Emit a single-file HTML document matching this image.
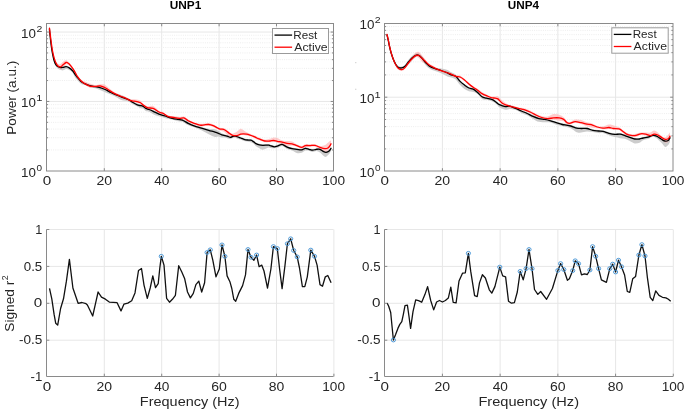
<!DOCTYPE html>
<html><head><meta charset="utf-8"><style>
html,body{margin:0;padding:0;background:#fff;}
svg{display:block;}
#w{width:685px;height:410px;overflow:hidden;will-change:transform;}
text{font-family:"Liberation Sans",sans-serif;}
</style></head><body>
<div id="w"><svg width="685" height="410" viewBox="0 0 685 410">
<rect width="685" height="410" fill="#fff"/>
<line x1="104.3" y1="23.5" x2="104.3" y2="171" stroke="#e7e7e7" stroke-width="1"/>
<line x1="161.7" y1="23.5" x2="161.7" y2="171" stroke="#e7e7e7" stroke-width="1"/>
<line x1="219.1" y1="23.5" x2="219.1" y2="171" stroke="#e7e7e7" stroke-width="1"/>
<line x1="276.5" y1="23.5" x2="276.5" y2="171" stroke="#e7e7e7" stroke-width="1"/>
<line x1="46.5" y1="149.96" x2="333.5" y2="149.96" stroke="#ededed" stroke-width="1" stroke-dasharray="1 1.2"/>
<line x1="46.5" y1="137.74" x2="333.5" y2="137.74" stroke="#ededed" stroke-width="1" stroke-dasharray="1 1.2"/>
<line x1="46.5" y1="129.07" x2="333.5" y2="129.07" stroke="#ededed" stroke-width="1" stroke-dasharray="1 1.2"/>
<line x1="46.5" y1="122.34" x2="333.5" y2="122.34" stroke="#ededed" stroke-width="1" stroke-dasharray="1 1.2"/>
<line x1="46.5" y1="116.85" x2="333.5" y2="116.85" stroke="#ededed" stroke-width="1" stroke-dasharray="1 1.2"/>
<line x1="46.5" y1="112.2" x2="333.5" y2="112.2" stroke="#ededed" stroke-width="1" stroke-dasharray="1 1.2"/>
<line x1="46.5" y1="108.18" x2="333.5" y2="108.18" stroke="#ededed" stroke-width="1" stroke-dasharray="1 1.2"/>
<line x1="46.5" y1="104.63" x2="333.5" y2="104.63" stroke="#ededed" stroke-width="1" stroke-dasharray="1 1.2"/>
<line x1="46.5" y1="80.56" x2="333.5" y2="80.56" stroke="#ededed" stroke-width="1" stroke-dasharray="1 1.2"/>
<line x1="46.5" y1="68.34" x2="333.5" y2="68.34" stroke="#ededed" stroke-width="1" stroke-dasharray="1 1.2"/>
<line x1="46.5" y1="59.67" x2="333.5" y2="59.67" stroke="#ededed" stroke-width="1" stroke-dasharray="1 1.2"/>
<line x1="46.5" y1="52.94" x2="333.5" y2="52.94" stroke="#ededed" stroke-width="1" stroke-dasharray="1 1.2"/>
<line x1="46.5" y1="47.45" x2="333.5" y2="47.45" stroke="#ededed" stroke-width="1" stroke-dasharray="1 1.2"/>
<line x1="46.5" y1="42.8" x2="333.5" y2="42.8" stroke="#ededed" stroke-width="1" stroke-dasharray="1 1.2"/>
<line x1="46.5" y1="38.78" x2="333.5" y2="38.78" stroke="#ededed" stroke-width="1" stroke-dasharray="1 1.2"/>
<line x1="46.5" y1="35.23" x2="333.5" y2="35.23" stroke="#ededed" stroke-width="1" stroke-dasharray="1 1.2"/>
<line x1="46.5" y1="101.45" x2="333.5" y2="101.45" stroke="#e7e7e7" stroke-width="1"/>
<line x1="46.5" y1="32.05" x2="333.5" y2="32.05" stroke="#e7e7e7" stroke-width="1"/>
<line x1="442.42" y1="23.5" x2="442.42" y2="171" stroke="#e7e7e7" stroke-width="1"/>
<line x1="500.14" y1="23.5" x2="500.14" y2="171" stroke="#e7e7e7" stroke-width="1"/>
<line x1="557.86" y1="23.5" x2="557.86" y2="171" stroke="#e7e7e7" stroke-width="1"/>
<line x1="615.58" y1="23.5" x2="615.58" y2="171" stroke="#e7e7e7" stroke-width="1"/>
<line x1="384.5" y1="148.92" x2="673" y2="148.92" stroke="#ededed" stroke-width="1" stroke-dasharray="1 1.2"/>
<line x1="384.5" y1="135.89" x2="673" y2="135.89" stroke="#ededed" stroke-width="1" stroke-dasharray="1 1.2"/>
<line x1="384.5" y1="126.65" x2="673" y2="126.65" stroke="#ededed" stroke-width="1" stroke-dasharray="1 1.2"/>
<line x1="384.5" y1="119.48" x2="673" y2="119.48" stroke="#ededed" stroke-width="1" stroke-dasharray="1 1.2"/>
<line x1="384.5" y1="113.62" x2="673" y2="113.62" stroke="#ededed" stroke-width="1" stroke-dasharray="1 1.2"/>
<line x1="384.5" y1="108.66" x2="673" y2="108.66" stroke="#ededed" stroke-width="1" stroke-dasharray="1 1.2"/>
<line x1="384.5" y1="104.37" x2="673" y2="104.37" stroke="#ededed" stroke-width="1" stroke-dasharray="1 1.2"/>
<line x1="384.5" y1="100.59" x2="673" y2="100.59" stroke="#ededed" stroke-width="1" stroke-dasharray="1 1.2"/>
<line x1="384.5" y1="74.92" x2="673" y2="74.92" stroke="#ededed" stroke-width="1" stroke-dasharray="1 1.2"/>
<line x1="384.5" y1="61.89" x2="673" y2="61.89" stroke="#ededed" stroke-width="1" stroke-dasharray="1 1.2"/>
<line x1="384.5" y1="52.65" x2="673" y2="52.65" stroke="#ededed" stroke-width="1" stroke-dasharray="1 1.2"/>
<line x1="384.5" y1="45.48" x2="673" y2="45.48" stroke="#ededed" stroke-width="1" stroke-dasharray="1 1.2"/>
<line x1="384.5" y1="39.62" x2="673" y2="39.62" stroke="#ededed" stroke-width="1" stroke-dasharray="1 1.2"/>
<line x1="384.5" y1="34.66" x2="673" y2="34.66" stroke="#ededed" stroke-width="1" stroke-dasharray="1 1.2"/>
<line x1="384.5" y1="30.37" x2="673" y2="30.37" stroke="#ededed" stroke-width="1" stroke-dasharray="1 1.2"/>
<line x1="384.5" y1="26.59" x2="673" y2="26.59" stroke="#ededed" stroke-width="1" stroke-dasharray="1 1.2"/>
<line x1="384.5" y1="97.2" x2="673" y2="97.2" stroke="#e7e7e7" stroke-width="1"/>
<path d="M49.4 27.9 C49.52 29.04 49.82 32.13 50.1 34.71 C50.38 37.3 50.75 40.73 51.1 43.43 C51.45 46.12 51.75 48.39 52.2 50.89 C52.65 53.4 53.22 56.38 53.8 58.46 C54.38 60.54 54.95 62.17 55.7 63.35 C56.45 64.54 57.48 65.06 58.3 65.57 C59.12 66.08 59.8 66.33 60.6 66.43 C61.4 66.54 62.18 66.34 63.1 66.19 C64.02 66.04 65.08 65.42 66.1 65.55 C67.12 65.68 68.08 66.26 69.2 66.99 C70.32 67.72 71.93 69.06 72.8 69.93 C73.67 70.8 73.65 71.15 74.4 72.19 C75.15 73.24 76.2 74.85 77.3 76.2 C78.4 77.55 79.78 79.22 81 80.28 C82.22 81.34 83.02 81.8 84.6 82.57 C86.18 83.33 88.77 84.37 90.5 84.86 C92.23 85.36 93.55 85.31 95 85.54 C96.45 85.76 97.52 85.75 99.2 86.21 C100.88 86.67 103.38 87.58 105.1 88.3 C106.82 89.03 108.03 89.83 109.5 90.56 C110.97 91.29 111.95 91.95 113.9 92.68 C115.85 93.42 118.77 93.99 121.2 94.96 C123.63 95.93 126.53 97.43 128.5 98.5 C130.47 99.58 131.53 100.56 133 101.4 C134.47 102.23 136.13 103 137.3 103.51 C138.47 104.01 139.03 104.14 140 104.44 C140.97 104.74 142.13 104.82 143.1 105.3 C144.07 105.78 144.82 106.77 145.8 107.31 C146.78 107.84 147.77 108.04 149 108.5 C150.23 108.97 151.53 109.32 153.2 110.07 C154.87 110.82 157.05 112.16 159 112.98 C160.95 113.8 162.7 114.29 164.9 114.99 C167.1 115.69 170.02 116.62 172.2 117.19 C174.38 117.77 176.3 118.11 178 118.42 C179.7 118.73 180.7 118.44 182.4 119.04 C184.1 119.64 186.25 121.05 188.2 122.01 C190.15 122.98 191.9 123.98 194.1 124.81 C196.3 125.64 198.97 126.31 201.4 126.99 C203.83 127.66 206.43 128.47 208.7 128.83 C210.97 129.2 213.38 128.84 215 129.17 C216.62 129.51 217.27 130.15 218.4 130.84 C219.53 131.53 220.67 132.7 221.8 133.31 C222.93 133.91 224.2 134.15 225.2 134.46 C226.2 134.76 226.93 134.79 227.8 135.12 C228.67 135.46 229.55 136.45 230.4 136.47 C231.25 136.5 232.05 135.51 232.9 135.26 C233.75 135.02 234.65 134.89 235.5 135 C236.35 135.1 237.15 135.61 238 135.9 C238.85 136.2 239.6 136.38 240.6 136.77 C241.6 137.16 242.87 137.85 244 138.23 C245.13 138.62 246.27 138.94 247.4 139.08 C248.53 139.21 249.8 138.82 250.8 139.06 C251.8 139.3 252.53 139.95 253.4 140.51 C254.27 141.07 255 141.89 256 142.42 C257 142.94 258.27 143.35 259.4 143.67 C260.53 143.99 261.28 144.29 262.8 144.35 C264.32 144.41 267.3 144.02 268.5 144.05 C269.7 144.08 269.03 144.24 270 144.52 C270.97 144.8 272.88 145.76 274.3 145.73 C275.72 145.7 277.18 144.71 278.5 144.31 C279.82 143.9 280.77 143.01 282.2 143.31 C283.63 143.6 285.47 145.39 287.1 146.1 C288.73 146.82 290.38 147.24 292 147.6 C293.62 147.97 295.18 148.14 296.8 148.32 C298.42 148.5 300.27 148.91 301.7 148.7 C303.13 148.49 304.18 147.13 305.4 147.06 C306.62 146.99 307.78 147.94 309 148.27 C310.22 148.61 311.48 149.08 312.7 149.09 C313.92 149.1 315.08 148.45 316.3 148.31 C317.52 148.18 318.77 147.92 320 148.27 C321.23 148.62 322.68 149.94 323.7 150.42 C324.72 150.91 325.2 151.26 326.1 151.19 C327 151.11 328.28 150.64 329.1 149.98 C329.92 149.32 330.68 147.68 331 147.22 L331 151.1 C330.68 151.6 329.92 153.15 329.1 154.11 C328.28 155.07 327 156.54 326.1 156.85 C325.2 157.17 324.72 156.71 323.7 155.99 C322.68 155.26 321.23 153.32 320 152.49 C318.77 151.67 317.52 151.11 316.3 151.02 C315.08 150.92 313.92 151.98 312.7 151.93 C311.48 151.87 310.22 150.93 309 150.71 C307.78 150.48 306.62 150.24 305.4 150.57 C304.18 150.91 303.13 152.31 301.7 152.71 C300.27 153.11 298.42 153.34 296.8 152.97 C295.18 152.6 293.62 151.15 292 150.5 C290.38 149.85 288.73 149.82 287.1 149.09 C285.47 148.35 283.63 146.36 282.2 146.1 C280.77 145.83 279.82 147.14 278.5 147.48 C277.18 147.82 275.72 148.07 274.3 148.14 C272.88 148.21 270.97 147.99 270 147.9 C269.03 147.8 269.7 147.26 268.5 147.57 C267.3 147.87 264.32 149.61 262.8 149.73 C261.28 149.85 260.53 148.87 259.4 148.3 C258.27 147.73 257 147.09 256 146.31 C255 145.52 254.27 144.23 253.4 143.57 C252.53 142.91 251.8 142.69 250.8 142.33 C249.8 141.96 248.53 141.61 247.4 141.39 C246.27 141.18 245.13 141.33 244 141.02 C242.87 140.72 241.6 139.89 240.6 139.57 C239.6 139.25 238.85 139.41 238 139.09 C237.15 138.78 236.35 137.86 235.5 137.68 C234.65 137.5 233.75 137.8 232.9 138.01 C232.05 138.21 231.25 138.82 230.4 138.9 C229.55 138.98 228.67 138.73 227.8 138.49 C226.93 138.25 226.2 137.65 225.2 137.47 C224.2 137.29 222.93 137.56 221.8 137.42 C220.67 137.27 219.53 136.66 218.4 136.59 C217.27 136.51 216.62 137.36 215 136.96 C213.38 136.57 210.97 135.32 208.7 134.2 C206.43 133.08 203.83 131.42 201.4 130.25 C198.97 129.09 196.3 128.07 194.1 127.23 C191.9 126.4 190.15 126.17 188.2 125.27 C186.25 124.36 184.1 122.46 182.4 121.8 C180.7 121.13 179.7 121.64 178 121.28 C176.3 120.91 174.38 120.16 172.2 119.61 C170.02 119.06 167.1 118.52 164.9 117.98 C162.7 117.43 160.95 116.97 159 116.34 C157.05 115.71 154.87 114.93 153.2 114.17 C151.53 113.42 150.23 112.35 149 111.82 C147.77 111.29 146.78 111.56 145.8 111.02 C144.82 110.47 144.07 109.09 143.1 108.57 C142.13 108.06 140.97 108.28 140 107.92 C139.03 107.55 138.47 107 137.3 106.4 C136.13 105.79 134.47 105.11 133 104.28 C131.53 103.45 130.47 102.15 128.5 101.44 C126.53 100.74 123.63 100.97 121.2 100.04 C118.77 99.11 115.85 96.86 113.9 95.87 C111.95 94.87 110.97 94.7 109.5 94.08 C108.03 93.47 106.82 92.91 105.1 92.18 C103.38 91.45 100.88 90.34 99.2 89.7 C97.52 89.05 96.45 88.67 95 88.31 C93.55 87.95 92.23 88.07 90.5 87.52 C88.77 86.97 86.18 85.62 84.6 85 C83.02 84.38 82.22 84.61 81 83.78 C79.78 82.96 78.4 81.31 77.3 80.05 C76.2 78.78 75.15 77.38 74.4 76.2 C73.65 75.02 73.67 74 72.8 72.97 C71.93 71.94 70.32 70.67 69.2 70.02 C68.08 69.37 67.12 69.01 66.1 69.07 C65.08 69.13 64.02 70.26 63.1 70.37 C62.18 70.48 61.4 69.99 60.6 69.75 C59.8 69.52 59.12 69.57 58.3 68.95 C57.48 68.33 56.45 67.3 55.7 66.05 C54.95 64.81 54.38 63.59 53.8 61.47 C53.22 59.35 52.65 55.88 52.2 53.35 C51.75 50.81 51.45 48.87 51.1 46.26 C50.75 43.64 50.38 40.2 50.1 37.66 C49.82 35.13 49.52 32.14 49.4 31.03 Z" fill="#c6c6c6" fill-opacity="0.9" stroke="none"/>
<path d="M49.5 26.87 C49.63 28.01 49.98 31.14 50.3 33.71 C50.62 36.28 51.03 39.63 51.4 42.29 C51.77 44.95 52.03 47.32 52.5 49.69 C52.97 52.06 53.62 54.55 54.2 56.51 C54.78 58.48 55.37 60.26 56 61.48 C56.63 62.71 57.23 63.47 58 63.87 C58.77 64.27 59.75 64.22 60.6 63.88 C61.45 63.54 62.18 62.42 63.1 61.82 C64.02 61.23 65.18 60.28 66.1 60.32 C67.02 60.36 67.78 61.34 68.6 62.07 C69.42 62.8 70.1 63.52 71 64.7 C71.9 65.89 72.95 67.44 74 69.18 C75.05 70.92 76.02 73.35 77.3 75.14 C78.58 76.92 80.23 78.76 81.7 79.88 C83.17 81.01 84.63 81.25 86.1 81.89 C87.57 82.54 88.92 83.2 90.5 83.74 C92.08 84.28 94.02 85.06 95.6 85.15 C97.18 85.24 98.53 84.37 100 84.27 C101.47 84.17 103.07 84.04 104.4 84.55 C105.73 85.06 106.67 86.27 108 87.31 C109.33 88.35 110.93 89.76 112.4 90.79 C113.87 91.82 115.33 92.74 116.8 93.48 C118.27 94.22 119.73 94.64 121.2 95.23 C122.67 95.82 124.13 96.39 125.6 97.03 C127.07 97.66 128.55 98.65 130 99.02 C131.45 99.39 132.97 99.13 134.3 99.23 C135.63 99.33 136.97 99.37 138 99.63 C139.03 99.9 139.68 100.19 140.5 100.81 C141.32 101.44 141.77 102.5 142.9 103.39 C144.03 104.29 145.58 105.75 147.3 106.17 C149.02 106.59 151.25 105.16 153.2 105.91 C155.15 106.66 157.3 109.61 159 110.65 C160.7 111.69 161.93 111.37 163.4 112.16 C164.87 112.95 166.1 114.72 167.8 115.38 C169.5 116.03 171.65 115.84 173.6 116.09 C175.55 116.34 177.78 116.8 179.5 116.88 C181.22 116.96 182.45 116.13 183.9 116.56 C185.35 116.99 186.5 118.5 188.2 119.46 C189.9 120.41 192.15 121.57 194.1 122.3 C196.05 123.02 198.2 123.6 199.9 123.8 C201.6 123.99 202.83 123.58 204.3 123.46 C205.77 123.34 207.23 122.93 208.7 123.07 C210.17 123.2 211.62 123.61 213.1 124.27 C214.58 124.92 216.43 126.4 217.6 126.98 C218.77 127.55 219.12 127.55 220.1 127.72 C221.08 127.9 222.5 127.78 223.5 128.04 C224.5 128.3 225.23 128.69 226.1 129.28 C226.97 129.87 227.7 130.83 228.7 131.56 C229.7 132.3 230.97 133.51 232.1 133.69 C233.23 133.86 234.52 133.1 235.5 132.6 C236.48 132.1 237.15 131.34 238 130.69 C238.85 130.03 239.73 128.81 240.6 128.68 C241.47 128.56 242.2 129.34 243.2 129.95 C244.2 130.56 245.47 131.69 246.6 132.33 C247.73 132.96 248.87 133.3 250 133.77 C251.13 134.24 252.27 134.68 253.4 135.12 C254.53 135.56 255.67 135.93 256.8 136.41 C257.93 136.89 258.87 137.48 260.2 138.02 C261.53 138.55 263.18 139.48 264.8 139.61 C266.42 139.75 268.42 139.21 269.9 138.85 C271.38 138.48 272.47 137.57 273.7 137.43 C274.93 137.29 275.88 137.51 277.3 138.01 C278.72 138.5 280.57 139.9 282.2 140.41 C283.83 140.93 285.47 140.92 287.1 141.11 C288.73 141.29 290.38 140.98 292 141.52 C293.62 142.05 295.18 143.6 296.8 144.33 C298.42 145.06 300.27 145.9 301.7 145.89 C303.13 145.89 303.98 144.59 305.4 144.3 C306.82 144.01 308.58 144.14 310.2 144.15 C311.82 144.15 313.47 144 315.1 144.33 C316.73 144.66 318.37 145.99 320 146.11 C321.63 146.24 323.58 145.67 324.9 145.09 C326.22 144.52 326.98 143.4 327.9 142.67 C328.82 141.94 329.88 141.07 330.4 140.71 C330.92 140.34 330.9 140.51 331 140.47 L331 145.72 C330.9 145.91 330.92 146.02 330.4 146.85 C329.88 147.69 328.82 149.87 327.9 150.72 C326.98 151.57 326.22 152.15 324.9 151.95 C323.58 151.75 321.63 150.38 320 149.52 C318.37 148.66 316.73 147.27 315.1 146.79 C313.47 146.32 311.82 146.62 310.2 146.67 C308.58 146.72 306.82 146.72 305.4 147.08 C303.98 147.43 303.13 148.88 301.7 148.8 C300.27 148.72 298.42 147.16 296.8 146.61 C295.18 146.06 293.62 145.57 292 145.48 C290.38 145.39 288.73 146.25 287.1 146.07 C285.47 145.88 283.83 144.92 282.2 144.38 C280.57 143.84 278.72 143.25 277.3 142.82 C275.88 142.4 274.93 141.95 273.7 141.85 C272.47 141.76 271.38 142.21 269.9 142.28 C268.42 142.35 266.42 142.57 264.8 142.28 C263.18 141.99 261.53 141 260.2 140.53 C258.87 140.07 257.93 139.99 256.8 139.48 C255.67 138.98 254.53 138.05 253.4 137.51 C252.27 136.97 251.13 136.52 250 136.23 C248.87 135.95 247.73 135.98 246.6 135.79 C245.47 135.6 244.2 135.18 243.2 135.1 C242.2 135.02 241.47 135.01 240.6 135.31 C239.73 135.61 238.85 136.58 238 136.89 C237.15 137.2 236.48 137.09 235.5 137.16 C234.52 137.23 233.23 137.46 232.1 137.31 C230.97 137.15 229.7 136.83 228.7 136.25 C227.7 135.67 226.97 134.61 226.1 133.83 C225.23 133.04 224.5 132.09 223.5 131.53 C222.5 130.97 221.08 130.82 220.1 130.45 C219.12 130.09 218.77 129.9 217.6 129.34 C216.43 128.78 214.58 127.73 213.1 127.09 C211.62 126.46 210.17 125.72 208.7 125.56 C207.23 125.39 205.77 125.91 204.3 126.11 C202.83 126.31 201.6 127.05 199.9 126.76 C198.2 126.47 196.05 125.14 194.1 124.36 C192.15 123.58 189.9 122.91 188.2 122.08 C186.5 121.26 185.35 119.83 183.9 119.39 C182.45 118.96 181.22 119.57 179.5 119.47 C177.78 119.37 175.55 119.08 173.6 118.79 C171.65 118.5 169.5 118.38 167.8 117.72 C166.1 117.06 164.87 115.57 163.4 114.84 C161.93 114.11 160.7 114.21 159 113.33 C157.3 112.44 155.15 110.22 153.2 109.53 C151.25 108.83 149.02 109.74 147.3 109.16 C145.58 108.59 144.03 106.97 142.9 106.08 C141.77 105.19 141.32 104.28 140.5 103.81 C139.68 103.35 139.03 103.5 138 103.29 C136.97 103.09 135.63 102.91 134.3 102.6 C132.97 102.29 131.45 101.94 130 101.44 C128.55 100.95 127.07 100.22 125.6 99.63 C124.13 99.03 122.67 98.5 121.2 97.87 C119.73 97.23 118.27 96.5 116.8 95.81 C115.33 95.11 113.87 94.55 112.4 93.71 C110.93 92.87 109.33 91.61 108 90.77 C106.67 89.94 105.73 89.35 104.4 88.72 C103.07 88.09 101.47 87.23 100 87.02 C98.53 86.81 97.18 87.33 95.6 87.47 C94.02 87.61 92.08 88.18 90.5 87.87 C88.92 87.56 87.57 86.48 86.1 85.59 C84.63 84.69 83.17 83.8 81.7 82.51 C80.23 81.23 78.58 79.72 77.3 77.88 C76.02 76.05 75.05 73.27 74 71.52 C72.95 69.77 71.9 68.44 71 67.36 C70.1 66.28 69.42 65.56 68.6 65.05 C67.78 64.54 67.02 63.9 66.1 64.3 C65.18 64.71 64.02 66.63 63.1 67.47 C62.18 68.32 61.45 69.31 60.6 69.38 C59.75 69.45 58.77 68.67 58 67.87 C57.23 67.07 56.63 66.04 56 64.6 C55.37 63.16 54.78 61.3 54.2 59.22 C53.62 57.14 52.97 54.49 52.5 52.13 C52.03 49.77 51.77 47.73 51.4 45.05 C51.03 42.36 50.62 38.63 50.3 36.04 C49.98 33.45 49.63 30.59 49.5 29.5 Z" fill="#ffb0b0" fill-opacity="0.65" stroke="none"/>
<path d="M49.4 29 C49.52 30.17 49.82 33.42 50.1 36 C50.38 38.58 50.75 41.83 51.1 44.5 C51.45 47.17 51.75 49.5 52.2 52 C52.65 54.5 53.22 57.45 53.8 59.5 C54.38 61.55 54.95 63.08 55.7 64.3 C56.45 65.52 57.48 66.25 58.3 66.8 C59.12 67.35 59.8 67.52 60.6 67.6 C61.4 67.68 62.18 67.45 63.1 67.3 C64.02 67.15 65.08 66.6 66.1 66.7 C67.12 66.8 68.08 67.18 69.2 67.9 C70.32 68.62 71.93 70.08 72.8 71 C73.67 71.92 73.65 72.35 74.4 73.4 C75.15 74.45 76.2 75.95 77.3 77.3 C78.4 78.65 79.78 80.45 81 81.5 C82.22 82.55 83.02 82.88 84.6 83.6 C86.18 84.32 88.77 85.28 90.5 85.8 C92.23 86.32 93.55 86.45 95 86.7 C96.45 86.95 97.52 86.83 99.2 87.3 C100.88 87.77 103.38 88.75 105.1 89.5 C106.82 90.25 108.03 91.07 109.5 91.8 C110.97 92.53 111.95 93.07 113.9 93.9 C115.85 94.73 118.77 95.83 121.2 96.8 C123.63 97.77 126.53 98.75 128.5 99.7 C130.47 100.65 131.53 101.65 133 102.5 C134.47 103.35 136.13 104.3 137.3 104.8 C138.47 105.3 139.03 105.25 140 105.5 C140.97 105.75 142.13 105.82 143.1 106.3 C144.07 106.78 144.82 107.87 145.8 108.4 C146.78 108.93 147.77 109.02 149 109.5 C150.23 109.98 151.53 110.52 153.2 111.3 C154.87 112.08 157.05 113.42 159 114.2 C160.95 114.98 162.7 115.32 164.9 116 C167.1 116.68 170.02 117.73 172.2 118.3 C174.38 118.87 176.3 119.1 178 119.4 C179.7 119.7 180.7 119.45 182.4 120.1 C184.1 120.75 186.25 122.33 188.2 123.3 C190.15 124.27 191.9 125.1 194.1 125.9 C196.3 126.7 198.97 127.37 201.4 128.1 C203.83 128.83 206.43 129.63 208.7 130.3 C210.97 130.97 213.38 131.6 215 132.1 C216.62 132.6 217.27 132.85 218.4 133.3 C219.53 133.75 220.67 134.42 221.8 134.8 C222.93 135.18 224.2 135.35 225.2 135.6 C226.2 135.85 226.93 136 227.8 136.3 C228.67 136.6 229.55 137.4 230.4 137.4 C231.25 137.4 232.05 136.5 232.9 136.3 C233.75 136.1 234.65 136.08 235.5 136.2 C236.35 136.32 237.15 136.7 238 137 C238.85 137.3 239.6 137.62 240.6 138 C241.6 138.38 242.87 138.97 244 139.3 C245.13 139.63 246.27 139.85 247.4 140 C248.53 140.15 249.8 139.93 250.8 140.2 C251.8 140.47 252.53 141.03 253.4 141.6 C254.27 142.17 255 143.05 256 143.6 C257 144.15 258.27 144.62 259.4 144.9 C260.53 145.18 261.28 145.27 262.8 145.3 C264.32 145.33 267.3 145.05 268.5 145.1 C269.7 145.15 269.03 145.32 270 145.6 C270.97 145.88 272.88 146.8 274.3 146.8 C275.72 146.8 277.18 146 278.5 145.6 C279.82 145.2 280.77 144.15 282.2 144.4 C283.63 144.65 285.47 146.38 287.1 147.1 C288.73 147.82 290.38 148.33 292 148.7 C293.62 149.07 295.18 149.1 296.8 149.3 C298.42 149.5 300.27 150.07 301.7 149.9 C303.13 149.73 304.18 148.4 305.4 148.3 C306.62 148.2 307.78 148.98 309 149.3 C310.22 149.62 311.48 150.2 312.7 150.2 C313.92 150.2 315.08 149.45 316.3 149.3 C317.52 149.15 318.77 148.9 320 149.3 C321.23 149.7 322.68 151.2 323.7 151.7 C324.72 152.2 325.2 152.4 326.1 152.3 C327 152.2 328.28 151.77 329.1 151.1 C329.92 150.43 330.68 148.77 331 148.3" stroke="#000" stroke-width="1.3" fill="none" stroke-linejoin="round" stroke-linecap="round"/>
<path d="M49.5 28.2 C49.63 29.33 49.98 32.45 50.3 35 C50.62 37.55 51.03 40.87 51.4 43.5 C51.77 46.13 52.03 48.37 52.5 50.8 C52.97 53.23 53.62 56.07 54.2 58.1 C54.78 60.13 55.37 61.68 56 63 C56.63 64.32 57.23 65.37 58 66 C58.77 66.63 59.75 67 60.6 66.8 C61.45 66.6 62.18 65.52 63.1 64.8 C64.02 64.08 65.18 62.72 66.1 62.5 C67.02 62.28 67.78 62.88 68.6 63.5 C69.42 64.12 70.1 65.07 71 66.2 C71.9 67.33 72.95 68.62 74 70.3 C75.05 71.98 76.02 74.45 77.3 76.3 C78.58 78.15 80.23 80.05 81.7 81.4 C83.17 82.75 84.63 83.58 86.1 84.4 C87.57 85.22 88.92 85.98 90.5 86.3 C92.08 86.62 94.02 86.38 95.6 86.3 C97.18 86.22 98.53 85.63 100 85.8 C101.47 85.97 103.07 86.68 104.4 87.3 C105.73 87.92 106.67 88.65 108 89.5 C109.33 90.35 110.93 91.55 112.4 92.4 C113.87 93.25 115.33 93.92 116.8 94.6 C118.27 95.28 119.73 95.9 121.2 96.5 C122.67 97.1 124.13 97.55 125.6 98.2 C127.07 98.85 128.55 99.9 130 100.4 C131.45 100.9 132.97 100.97 134.3 101.2 C135.63 101.43 136.97 101.53 138 101.8 C139.03 102.07 139.68 102.32 140.5 102.8 C141.32 103.28 141.77 103.88 142.9 104.7 C144.03 105.52 145.58 107.08 147.3 107.7 C149.02 108.32 151.25 107.68 153.2 108.4 C155.15 109.12 157.3 111.15 159 112 C160.7 112.85 161.93 112.77 163.4 113.5 C164.87 114.23 166.1 115.73 167.8 116.4 C169.5 117.07 171.65 117.18 173.6 117.5 C175.55 117.82 177.78 118.23 179.5 118.3 C181.22 118.37 182.45 117.48 183.9 117.9 C185.35 118.32 186.5 119.9 188.2 120.8 C189.9 121.7 192.15 122.57 194.1 123.3 C196.05 124.03 198.2 124.95 199.9 125.2 C201.6 125.45 202.83 124.92 204.3 124.8 C205.77 124.68 207.23 124.37 208.7 124.5 C210.17 124.63 211.62 125.02 213.1 125.6 C214.58 126.18 216.43 127.42 217.6 128 C218.77 128.58 219.12 128.88 220.1 129.1 C221.08 129.32 222.5 129.02 223.5 129.3 C224.5 129.58 225.23 130.2 226.1 130.8 C226.97 131.4 227.7 132.18 228.7 132.9 C229.7 133.62 230.97 134.63 232.1 135.1 C233.23 135.57 234.52 135.67 235.5 135.7 C236.48 135.73 237.15 135.55 238 135.3 C238.85 135.05 239.73 134.43 240.6 134.2 C241.47 133.97 242.2 133.9 243.2 133.9 C244.2 133.9 245.47 134 246.6 134.2 C247.73 134.4 248.87 134.75 250 135.1 C251.13 135.45 252.27 135.82 253.4 136.3 C254.53 136.78 255.67 137.5 256.8 138 C257.93 138.5 258.87 138.8 260.2 139.3 C261.53 139.8 263.18 140.72 264.8 141 C266.42 141.28 268.42 141.08 269.9 141 C271.38 140.92 272.47 140.45 273.7 140.5 C274.93 140.55 275.88 141.02 277.3 141.3 C278.72 141.58 280.57 141.85 282.2 142.2 C283.83 142.55 285.47 143.13 287.1 143.4 C288.73 143.67 290.38 143.43 292 143.8 C293.62 144.17 295.18 145 296.8 145.6 C298.42 146.2 300.27 147.4 301.7 147.4 C303.13 147.4 303.98 145.9 305.4 145.6 C306.82 145.3 308.58 145.63 310.2 145.6 C311.82 145.57 313.47 145.1 315.1 145.4 C316.73 145.7 318.37 146.85 320 147.4 C321.63 147.95 323.58 148.6 324.9 148.7 C326.22 148.8 326.98 148.62 327.9 148 C328.82 147.38 329.88 145.7 330.4 145 C330.92 144.3 330.9 144 331 143.8" stroke="#f00" stroke-width="1.3" fill="none" stroke-linejoin="round" stroke-linecap="round"/>
<path d="M387 33.9 C387.22 34.79 387.88 37.29 388.3 39.21 C388.72 41.14 389 43.23 389.5 45.43 C390 47.62 390.58 50.05 391.3 52.39 C392.02 54.73 392.98 57.52 393.8 59.46 C394.62 61.4 395.4 62.92 396.2 64.05 C397 65.18 397.68 65.82 398.6 66.24 C399.52 66.66 400.68 66.8 401.7 66.58 C402.72 66.37 403.58 66.05 404.7 64.93 C405.82 63.82 407.18 61.38 408.4 59.9 C409.62 58.41 410.78 57.13 412 56.02 C413.22 54.91 414.57 53.73 415.7 53.22 C416.83 52.72 417.78 52.56 418.8 53.01 C419.82 53.47 420.68 54.66 421.8 55.96 C422.92 57.27 424.23 59.34 425.5 60.84 C426.77 62.35 427.78 63.84 429.4 64.98 C431.02 66.12 433.25 67.1 435.2 67.68 C437.15 68.25 439.15 68.09 441.1 68.44 C443.05 68.79 445.2 69.11 446.9 69.76 C448.6 70.41 449.83 71.54 451.3 72.35 C452.77 73.16 454.23 73.3 455.7 74.64 C457.17 75.99 458.63 78.84 460.1 80.41 C461.57 81.97 463.03 82.95 464.5 84.03 C465.97 85.11 467.45 86.23 468.9 86.91 C470.35 87.59 471.75 87.41 473.2 88.11 C474.65 88.8 476.13 89.83 477.6 91.11 C479.07 92.38 480.53 94.72 482 95.74 C483.47 96.76 484.68 96.72 486.4 97.2 C488.12 97.68 490.6 97.87 492.3 98.61 C494 99.34 495.42 100.79 496.6 101.6 C497.78 102.42 497.97 102.84 499.4 103.47 C500.83 104.1 503.5 105.09 505.2 105.38 C506.9 105.67 507.88 104.87 509.6 105.19 C511.32 105.51 513.55 106.49 515.5 107.29 C517.45 108.1 519.35 109.16 521.3 110.02 C523.25 110.88 525.25 111.59 527.2 112.44 C529.15 113.29 531.05 114.27 533 115.11 C534.95 115.96 536.95 116.98 538.9 117.51 C540.85 118.04 542.75 117.91 544.7 118.29 C546.65 118.66 548.65 119.16 550.6 119.74 C552.55 120.32 554.45 121.18 556.4 121.77 C558.35 122.37 560.87 122.97 562.3 123.3 C563.73 123.62 563.58 123.45 565 123.72 C566.42 123.99 568.85 124.35 570.8 124.89 C572.75 125.42 574.98 126.48 576.7 126.93 C578.42 127.37 579.4 127.48 581.1 127.57 C582.8 127.66 584.95 127.19 586.9 127.46 C588.85 127.73 590.85 128.79 592.8 129.2 C594.75 129.6 596.9 129.74 598.6 129.9 C600.3 130.06 601.28 129.78 603 130.17 C604.72 130.56 606.95 131.68 608.9 132.23 C610.85 132.79 612.85 133.36 614.7 133.48 C616.55 133.6 618.3 132.78 620 132.96 C621.7 133.13 623.27 133.97 624.9 134.51 C626.53 135.06 628.18 135.67 629.8 136.22 C631.42 136.76 632.98 137.46 634.6 137.77 C636.22 138.07 638.07 138.19 639.5 138.05 C640.93 137.91 641.78 137.29 643.2 136.95 C644.62 136.61 646.38 136.45 648 136.02 C649.62 135.58 651.47 134.51 652.9 134.33 C654.33 134.15 655.17 134.26 656.6 134.91 C658.03 135.55 660.08 137.34 661.5 138.21 C662.92 139.07 663.98 139.9 665.1 140.1 C666.22 140.3 667.38 139.95 668.2 139.4 C669.02 138.86 669.7 137.25 670 136.82 L670 141.69 C669.7 142.26 669.02 144.25 668.2 145.12 C667.38 146 666.22 147.33 665.1 146.94 C663.98 146.55 662.92 144.23 661.5 142.77 C660.08 141.32 658.03 139.2 656.6 138.19 C655.17 137.18 654.33 136.57 652.9 136.71 C651.47 136.84 649.62 138.43 648 139 C646.38 139.58 644.62 139.54 643.2 140.16 C641.78 140.77 640.93 142.15 639.5 142.69 C638.07 143.22 636.22 143.65 634.6 143.38 C632.98 143.11 631.42 141.81 629.8 141.05 C628.18 140.28 626.53 139.28 624.9 138.8 C623.27 138.32 621.7 138.44 620 138.16 C618.3 137.87 616.55 137.55 614.7 137.08 C612.85 136.6 610.85 135.99 608.9 135.31 C606.95 134.63 604.72 133.36 603 132.99 C601.28 132.62 600.3 133.26 598.6 133.11 C596.9 132.95 594.75 132.36 592.8 132.07 C590.85 131.78 588.85 131.33 586.9 131.39 C584.95 131.45 582.8 132.27 581.1 132.43 C579.4 132.58 578.42 133 576.7 132.3 C574.98 131.6 572.75 129.17 570.8 128.24 C568.85 127.31 566.42 127.09 565 126.7 C563.58 126.31 563.73 126.23 562.3 125.9 C560.87 125.58 558.35 125.31 556.4 124.75 C554.45 124.19 552.55 122.95 550.6 122.54 C548.65 122.13 546.65 122.39 544.7 122.27 C542.75 122.16 540.85 122.42 538.9 121.86 C536.95 121.29 534.95 119.98 533 118.88 C531.05 117.77 529.15 116.22 527.2 115.22 C525.25 114.22 523.25 113.79 521.3 112.88 C519.35 111.97 517.45 110.44 515.5 109.77 C513.55 109.11 511.32 108.9 509.6 108.9 C507.88 108.91 506.9 110.06 505.2 109.79 C503.5 109.53 500.83 108.24 499.4 107.3 C497.97 106.36 497.78 105.11 496.6 104.14 C495.42 103.17 494 102.21 492.3 101.49 C490.6 100.78 488.12 100.29 486.4 99.85 C484.68 99.42 483.47 99.83 482 98.88 C480.53 97.92 479.07 95.24 477.6 94.1 C476.13 92.96 474.65 92.53 473.2 92.06 C471.75 91.58 470.35 91.76 468.9 91.24 C467.45 90.73 465.97 90.02 464.5 88.98 C463.03 87.94 461.57 86.62 460.1 85.03 C458.63 83.44 457.17 80.71 455.7 79.44 C454.23 78.18 452.77 77.97 451.3 77.43 C449.83 76.89 448.6 76.91 446.9 76.22 C445.2 75.53 443.05 74.13 441.1 73.28 C439.15 72.42 437.15 71.88 435.2 71.09 C433.25 70.3 431.02 69.53 429.4 68.51 C427.78 67.49 426.77 66.44 425.5 64.98 C424.23 63.52 422.92 61.05 421.8 59.74 C420.68 58.43 419.82 57.61 418.8 57.13 C417.78 56.66 416.83 56.29 415.7 56.91 C414.57 57.52 413.22 59.52 412 60.8 C410.78 62.09 409.62 63.3 408.4 64.61 C407.18 65.93 405.82 67.92 404.7 68.69 C403.58 69.47 402.72 69.17 401.7 69.28 C400.68 69.39 399.52 69.78 398.6 69.35 C397.68 68.93 397 67.86 396.2 66.71 C395.4 65.56 394.62 64.44 393.8 62.46 C392.98 60.48 392.02 57.21 391.3 54.85 C390.58 52.48 390 50.37 389.5 48.26 C389 46.14 388.72 44.03 388.3 42.16 C387.88 40.29 387.22 37.89 387 37.03 Z" fill="#c6c6c6" fill-opacity="0.9" stroke="none"/>
<path d="M387 33.07 C387.22 33.99 387.88 36.65 388.3 38.61 C388.72 40.56 389 42.53 389.5 44.79 C390 47.06 390.58 49.82 391.3 52.2 C392.02 54.57 392.98 57.06 393.8 59.06 C394.62 61.06 395.4 62.85 396.2 64.19 C397 65.53 397.68 66.38 398.6 67.1 C399.52 67.83 400.68 68.6 401.7 68.55 C402.72 68.49 403.58 67.95 404.7 66.78 C405.82 65.6 407.18 63.1 408.4 61.49 C409.62 59.89 410.78 58.63 412 57.15 C413.22 55.67 414.57 53.47 415.7 52.6 C416.83 51.72 417.78 51.47 418.8 51.89 C419.82 52.31 420.77 53.92 421.8 55.11 C422.83 56.3 423.98 57.79 425 59.02 C426.02 60.25 426.68 61.45 427.9 62.49 C429.12 63.52 430.58 64.24 432.3 65.25 C434.02 66.27 436.25 67.74 438.2 68.6 C440.15 69.45 442.05 69.75 444 70.39 C445.95 71.02 447.95 71.65 449.9 72.42 C451.85 73.18 454 74.46 455.7 74.97 C457.4 75.47 458.63 74.78 460.1 75.44 C461.57 76.09 463.03 77.68 464.5 78.88 C465.97 80.08 467.45 81.43 468.9 82.63 C470.35 83.84 471.75 85.09 473.2 86.13 C474.65 87.16 476.13 87.85 477.6 88.84 C479.07 89.83 480.53 91.12 482 92.06 C483.47 92.99 484.93 93.75 486.4 94.43 C487.87 95.11 489.33 95.79 490.8 96.14 C492.27 96.49 494.02 96.5 495.2 96.52 C496.38 96.54 496.72 95.57 497.9 96.25 C499.08 96.93 500.83 99.35 502.3 100.59 C503.77 101.84 505 102.88 506.7 103.71 C508.4 104.53 510.55 104.95 512.5 105.56 C514.45 106.17 516.45 106.94 518.4 107.38 C520.35 107.82 522.25 107.66 524.2 108.19 C526.15 108.73 528.15 109.67 530.1 110.58 C532.05 111.49 533.95 112.75 535.9 113.65 C537.85 114.56 539.85 115.51 541.8 115.99 C543.75 116.47 545.65 116.85 547.6 116.53 C549.55 116.22 551.55 114.39 553.5 114.08 C555.45 113.78 557.6 114.17 559.3 114.69 C561 115.21 562.48 116.2 563.7 117.2 C564.92 118.19 565.62 119.83 566.6 120.66 C567.58 121.49 568.17 122.34 569.6 122.17 C571.03 121.99 573.28 119.98 575.2 119.62 C577.12 119.26 579.15 119.55 581.1 120.01 C583.05 120.46 585.2 121.81 586.9 122.36 C588.6 122.9 589.58 122.69 591.3 123.28 C593.02 123.87 595.25 125.38 597.2 125.9 C599.15 126.43 601.05 126.67 603 126.44 C604.95 126.21 607.2 124.74 608.9 124.53 C610.6 124.32 611.5 124.72 613.2 125.18 C614.9 125.64 617.57 126.52 619.1 127.28 C620.63 128.05 621.23 128.9 622.4 129.77 C623.57 130.65 624.67 131.8 626.1 132.54 C627.53 133.28 629.37 134.02 631 134.23 C632.63 134.44 634.28 134.09 635.9 133.81 C637.52 133.52 639.08 132.73 640.7 132.52 C642.32 132.31 643.97 132.55 645.6 132.55 C647.23 132.54 649.08 132.8 650.5 132.47 C651.92 132.14 652.88 130.56 654.1 130.55 C655.32 130.55 656.57 131.53 657.8 132.44 C659.03 133.34 660.28 135.16 661.5 135.98 C662.72 136.8 663.98 137.57 665.1 137.37 C666.22 137.17 667.38 135.63 668.2 134.79 C669.02 133.95 669.7 132.74 670 132.33 L670 137.94 C669.7 138.56 669.02 140.87 668.2 141.65 C667.38 142.43 666.22 143.04 665.1 142.61 C663.98 142.18 662.72 140.08 661.5 139.05 C660.28 138.02 659.03 137.01 657.8 136.41 C656.57 135.81 655.32 135.37 654.1 135.45 C652.88 135.52 651.92 136.89 650.5 136.88 C649.08 136.87 647.23 135.68 645.6 135.38 C643.97 135.07 642.32 134.78 640.7 135.03 C639.08 135.28 637.52 136.62 635.9 136.88 C634.28 137.14 632.63 136.93 631 136.61 C629.37 136.28 627.53 135.6 626.1 134.93 C624.67 134.26 623.57 133.4 622.4 132.59 C621.23 131.79 620.63 130.6 619.1 130.1 C617.57 129.61 614.9 129.78 613.2 129.61 C611.5 129.43 610.6 129.09 608.9 129.05 C607.2 129.01 604.95 129.46 603 129.35 C601.05 129.24 599.15 128.7 597.2 128.37 C595.25 128.05 593.02 127.72 591.3 127.39 C589.58 127.06 588.6 126.97 586.9 126.42 C585.2 125.87 583.05 124.71 581.1 124.1 C579.15 123.5 577.12 122.7 575.2 122.79 C573.28 122.88 571.03 124.44 569.6 124.66 C568.17 124.87 567.58 124.61 566.6 124.06 C565.62 123.5 564.92 121.89 563.7 121.33 C562.48 120.76 561 120.94 559.3 120.68 C557.6 120.41 555.45 119.91 553.5 119.74 C551.55 119.57 549.55 119.82 547.6 119.66 C545.65 119.5 543.75 119.31 541.8 118.78 C539.85 118.26 537.85 117.43 535.9 116.49 C533.95 115.56 532.05 114.11 530.1 113.17 C528.15 112.24 526.15 111.46 524.2 110.89 C522.25 110.31 520.35 110.16 518.4 109.72 C516.45 109.28 514.45 108.77 512.5 108.24 C510.55 107.71 508.4 107.16 506.7 106.53 C505 105.89 503.77 105.45 502.3 104.43 C500.83 103.4 499.08 101.17 497.9 100.36 C496.72 99.56 496.38 99.89 495.2 99.58 C494.02 99.27 492.27 98.93 490.8 98.51 C489.33 98.1 487.87 97.68 486.4 97.09 C484.93 96.51 483.47 95.98 482 95 C480.53 94.03 479.07 92.29 477.6 91.24 C476.13 90.2 474.65 89.72 473.2 88.73 C471.75 87.73 470.35 86.52 468.9 85.27 C467.45 84.02 465.97 82.37 464.5 81.21 C463.03 80.05 461.57 78.92 460.1 78.31 C458.63 77.71 457.4 78.11 455.7 77.57 C454 77.04 451.85 75.91 449.9 75.12 C447.95 74.33 445.95 73.53 444 72.82 C442.05 72.11 440.15 71.6 438.2 70.87 C436.25 70.13 434.02 69.28 432.3 68.4 C430.58 67.52 429.12 66.4 427.9 65.58 C426.68 64.77 426.02 64.16 425 63.51 C423.98 62.86 422.83 62.59 421.8 61.68 C420.77 60.77 419.82 58.78 418.8 58.05 C417.78 57.31 416.83 56.89 415.7 57.26 C414.57 57.64 413.22 59.12 412 60.29 C410.78 61.46 409.62 62.8 408.4 64.28 C407.18 65.76 405.82 68.07 404.7 69.18 C403.58 70.3 402.72 70.85 401.7 70.95 C400.68 71.06 399.52 70.49 398.6 69.82 C397.68 69.15 397 68.3 396.2 66.94 C395.4 65.59 394.62 63.74 393.8 61.69 C392.98 59.63 392.02 56.98 391.3 54.62 C390.58 52.27 390 49.83 389.5 47.55 C389 45.26 388.72 42.91 388.3 40.94 C387.88 38.96 387.22 36.57 387 35.7 Z" fill="#ffb0b0" fill-opacity="0.65" stroke="none"/>
<path d="M387 35 C387.22 35.92 387.88 38.58 388.3 40.5 C388.72 42.42 389 44.33 389.5 46.5 C390 48.67 390.58 51.17 391.3 53.5 C392.02 55.83 392.98 58.58 393.8 60.5 C394.62 62.42 395.4 63.83 396.2 65 C397 66.17 397.68 67.02 398.6 67.5 C399.52 67.98 400.68 68.07 401.7 67.9 C402.72 67.73 403.58 67.48 404.7 66.5 C405.82 65.52 407.18 63.42 408.4 62 C409.62 60.58 410.78 59.12 412 58 C413.22 56.88 414.57 55.75 415.7 55.3 C416.83 54.85 417.78 54.85 418.8 55.3 C419.82 55.75 420.68 56.8 421.8 58 C422.92 59.2 424.23 61.15 425.5 62.5 C426.77 63.85 427.78 65.07 429.4 66.1 C431.02 67.13 433.25 67.97 435.2 68.7 C437.15 69.43 439.15 69.83 441.1 70.5 C443.05 71.17 445.2 71.97 446.9 72.7 C448.6 73.43 449.83 74.3 451.3 74.9 C452.77 75.5 454.23 75.22 455.7 76.3 C457.17 77.38 458.63 79.93 460.1 81.4 C461.57 82.87 463.03 84 464.5 85.1 C465.97 86.2 467.45 87.32 468.9 88 C470.35 88.68 471.75 88.47 473.2 89.2 C474.65 89.93 476.13 91.13 477.6 92.4 C479.07 93.67 480.53 95.83 482 96.8 C483.47 97.77 484.68 97.72 486.4 98.2 C488.12 98.68 490.6 98.97 492.3 99.7 C494 100.43 495.42 101.77 496.6 102.6 C497.78 103.43 497.97 104.03 499.4 104.7 C500.83 105.37 503.5 106.35 505.2 106.6 C506.9 106.85 507.88 105.9 509.6 106.2 C511.32 106.5 513.55 107.6 515.5 108.4 C517.45 109.2 519.35 110.15 521.3 111 C523.25 111.85 525.25 112.6 527.2 113.5 C529.15 114.4 531.05 115.55 533 116.4 C534.95 117.25 536.95 118.1 538.9 118.6 C540.85 119.1 542.75 119.03 544.7 119.4 C546.65 119.77 548.65 120.25 550.6 120.8 C552.55 121.35 554.45 122.08 556.4 122.7 C558.35 123.32 560.87 124.13 562.3 124.5 C563.73 124.87 563.58 124.65 565 124.9 C566.42 125.15 568.85 125.47 570.8 126 C572.75 126.53 574.98 127.68 576.7 128.1 C578.42 128.52 579.4 128.43 581.1 128.5 C582.8 128.57 584.95 128.18 586.9 128.5 C588.85 128.82 590.85 129.98 592.8 130.4 C594.75 130.82 596.9 130.83 598.6 131 C600.3 131.17 601.28 131.02 603 131.4 C604.72 131.78 606.95 132.8 608.9 133.3 C610.85 133.8 612.85 134.27 614.7 134.4 C616.55 134.53 618.3 133.9 620 134.1 C621.7 134.3 623.27 135.05 624.9 135.6 C626.53 136.15 628.18 136.83 629.8 137.4 C631.42 137.97 632.98 138.73 634.6 139 C636.22 139.27 638.07 139.17 639.5 139 C640.93 138.83 641.78 138.32 643.2 138 C644.62 137.68 646.38 137.53 648 137.1 C649.62 136.67 651.47 135.55 652.9 135.4 C654.33 135.25 655.17 135.55 656.6 136.2 C658.03 136.85 660.08 138.48 661.5 139.3 C662.92 140.12 663.98 140.9 665.1 141.1 C666.22 141.3 667.38 141.05 668.2 140.5 C669.02 139.95 669.7 138.25 670 137.8" stroke="#000" stroke-width="1.3" fill="none" stroke-linejoin="round" stroke-linecap="round"/>
<path d="M387 34.4 C387.22 35.32 387.88 37.97 388.3 39.9 C388.72 41.83 389 43.77 389.5 46 C390 48.23 390.58 50.87 391.3 53.3 C392.02 55.73 392.98 58.57 393.8 60.6 C394.62 62.63 395.4 64.18 396.2 65.5 C397 66.82 397.68 67.8 398.6 68.5 C399.52 69.2 400.68 69.8 401.7 69.7 C402.72 69.6 403.58 69.02 404.7 67.9 C405.82 66.78 407.18 64.52 408.4 63 C409.62 61.48 410.78 60.02 412 58.8 C413.22 57.58 414.57 56.25 415.7 55.7 C416.83 55.15 417.78 55.1 418.8 55.5 C419.82 55.9 420.77 57.18 421.8 58.1 C422.83 59.02 423.98 60.03 425 61 C426.02 61.97 426.68 62.93 427.9 63.9 C429.12 64.87 430.58 65.83 432.3 66.8 C434.02 67.77 436.25 68.9 438.2 69.7 C440.15 70.5 442.05 70.93 444 71.6 C445.95 72.27 447.95 72.92 449.9 73.7 C451.85 74.48 454 75.75 455.7 76.3 C457.4 76.85 458.63 76.38 460.1 77 C461.57 77.62 463.03 78.85 464.5 80 C465.97 81.15 467.45 82.68 468.9 83.9 C470.35 85.12 471.75 86.25 473.2 87.3 C474.65 88.35 476.13 89.15 477.6 90.2 C479.07 91.25 480.53 92.7 482 93.6 C483.47 94.5 484.93 94.95 486.4 95.6 C487.87 96.25 489.33 97.07 490.8 97.5 C492.27 97.93 494.02 97.97 495.2 98.2 C496.38 98.43 496.72 98.05 497.9 98.9 C499.08 99.75 500.83 102.25 502.3 103.3 C503.77 104.35 505 104.6 506.7 105.2 C508.4 105.8 510.55 106.37 512.5 106.9 C514.45 107.43 516.45 107.95 518.4 108.4 C520.35 108.85 522.25 109 524.2 109.6 C526.15 110.2 528.15 111.1 530.1 112 C532.05 112.9 533.95 114.08 535.9 115 C537.85 115.92 539.85 116.9 541.8 117.5 C543.75 118.1 545.65 118.53 547.6 118.6 C549.55 118.67 551.55 118.02 553.5 117.9 C555.45 117.78 557.6 117.65 559.3 117.9 C561 118.15 562.48 118.67 563.7 119.4 C564.92 120.13 565.62 121.65 566.6 122.3 C567.58 122.95 568.17 123.42 569.6 123.3 C571.03 123.18 573.28 121.7 575.2 121.6 C577.12 121.5 579.15 122.28 581.1 122.7 C583.05 123.12 585.2 123.78 586.9 124.1 C588.6 124.42 589.58 124.12 591.3 124.6 C593.02 125.08 595.25 126.42 597.2 127 C599.15 127.58 601.05 128.02 603 128.1 C604.95 128.18 607.2 127.43 608.9 127.5 C610.6 127.57 611.5 128.27 613.2 128.5 C614.9 128.73 617.57 128.48 619.1 128.9 C620.63 129.32 621.23 130.18 622.4 131 C623.57 131.82 624.67 133.07 626.1 133.8 C627.53 134.53 629.37 135.13 631 135.4 C632.63 135.67 634.28 135.67 635.9 135.4 C637.52 135.13 639.08 134.02 640.7 133.8 C642.32 133.58 643.97 133.8 645.6 134.1 C647.23 134.4 649.08 135.6 650.5 135.6 C651.92 135.6 652.88 134.2 654.1 134.1 C655.32 134 656.57 134.45 657.8 135 C659.03 135.55 660.28 136.68 661.5 137.4 C662.72 138.12 663.98 139.08 665.1 139.3 C666.22 139.52 667.38 139.22 668.2 138.7 C669.02 138.18 669.7 136.62 670 136.2" stroke="#f00" stroke-width="1.3" fill="none" stroke-linejoin="round" stroke-linecap="round"/>
<path d="M104.3 171 V168.2 M104.3 23.5 V26.3 M161.7 171 V168.2 M161.7 23.5 V26.3 M219.1 171 V168.2 M219.1 23.5 V26.3 M276.5 171 V168.2 M276.5 23.5 V26.3 M46.5 149.96 H48.1 M333.5 149.96 H331.9 M46.5 137.74 H48.1 M333.5 137.74 H331.9 M46.5 129.07 H48.1 M333.5 129.07 H331.9 M46.5 122.34 H48.1 M333.5 122.34 H331.9 M46.5 116.85 H48.1 M333.5 116.85 H331.9 M46.5 112.2 H48.1 M333.5 112.2 H331.9 M46.5 108.18 H48.1 M333.5 108.18 H331.9 M46.5 104.63 H48.1 M333.5 104.63 H331.9 M46.5 101.45 H49.3 M333.5 101.45 H330.7 M46.5 80.56 H48.1 M333.5 80.56 H331.9 M46.5 68.34 H48.1 M333.5 68.34 H331.9 M46.5 59.67 H48.1 M333.5 59.67 H331.9 M46.5 52.94 H48.1 M333.5 52.94 H331.9 M46.5 47.45 H48.1 M333.5 47.45 H331.9 M46.5 42.8 H48.1 M333.5 42.8 H331.9 M46.5 38.78 H48.1 M333.5 38.78 H331.9 M46.5 35.23 H48.1 M333.5 35.23 H331.9 M46.5 32.05 H49.3 M333.5 32.05 H330.7" stroke="#8a8a8a" stroke-width="1" fill="none"/>
<rect x="46.5" y="23.5" width="287.0" height="147.5" fill="none" stroke="#8a8a8a" stroke-width="1"/>
<path d="M442.42 171 V168.2 M442.42 23.5 V26.3 M500.14 171 V168.2 M500.14 23.5 V26.3 M557.86 171 V168.2 M557.86 23.5 V26.3 M615.58 171 V168.2 M615.58 23.5 V26.3 M384.5 148.92 H386.1 M673 148.92 H671.4 M384.5 135.89 H386.1 M673 135.89 H671.4 M384.5 126.65 H386.1 M673 126.65 H671.4 M384.5 119.48 H386.1 M673 119.48 H671.4 M384.5 113.62 H386.1 M673 113.62 H671.4 M384.5 108.66 H386.1 M673 108.66 H671.4 M384.5 104.37 H386.1 M673 104.37 H671.4 M384.5 100.59 H386.1 M673 100.59 H671.4 M384.5 97.2 H387.3 M673 97.2 H670.2 M384.5 74.92 H386.1 M673 74.92 H671.4 M384.5 61.89 H386.1 M673 61.89 H671.4 M384.5 52.65 H386.1 M673 52.65 H671.4 M384.5 45.48 H386.1 M673 45.48 H671.4 M384.5 39.62 H386.1 M673 39.62 H671.4 M384.5 34.66 H386.1 M673 34.66 H671.4 M384.5 30.37 H386.1 M673 30.37 H671.4 M384.5 26.59 H386.1 M673 26.59 H671.4" stroke="#8a8a8a" stroke-width="1" fill="none"/>
<rect x="384.5" y="23.5" width="288.5" height="147.5" fill="none" stroke="#8a8a8a" stroke-width="1"/>
<rect x="272.5" y="28.5" width="56" height="25" fill="#fff" stroke="#9a9a9a" stroke-width="1"/>
<line x1="274.5" y1="35.1" x2="292.1" y2="35.1" stroke="#000" stroke-width="1.3"/>
<line x1="274.5" y1="47.2" x2="292.1" y2="47.2" stroke="#f00" stroke-width="1.3"/>
<text transform="translate(293.37 39) scale(1.1189 1)" font-size="10.435" font-weight="normal" fill="#262626">Rest</text>
<text transform="translate(294.3 50.8) scale(1.2262 1)" font-size="10.000" font-weight="normal" fill="#262626">Active</text>
<rect x="611.8" y="27.8" width="56.4" height="25.4" fill="#fff" stroke="#9a9a9a" stroke-width="1"/>
<line x1="613.8" y1="34.4" x2="631.4" y2="34.4" stroke="#000" stroke-width="1.3"/>
<line x1="613.8" y1="46.5" x2="631.4" y2="46.5" stroke="#f00" stroke-width="1.3"/>
<text transform="translate(632.67 38.3) scale(1.1189 1)" font-size="10.435" font-weight="normal" fill="#262626">Rest</text>
<text transform="translate(633.6 50.1) scale(1.2262 1)" font-size="10.000" font-weight="normal" fill="#262626">Active</text>
<line x1="104.3" y1="229.5" x2="104.3" y2="376.5" stroke="#e7e7e7" stroke-width="1"/>
<line x1="161.7" y1="229.5" x2="161.7" y2="376.5" stroke="#e7e7e7" stroke-width="1"/>
<line x1="219.1" y1="229.5" x2="219.1" y2="376.5" stroke="#e7e7e7" stroke-width="1"/>
<line x1="276.5" y1="229.5" x2="276.5" y2="376.5" stroke="#e7e7e7" stroke-width="1"/>
<line x1="333.9" y1="229.5" x2="333.9" y2="376.5" stroke="#e7e7e7" stroke-width="1"/>
<line x1="46.5" y1="266.4" x2="333.5" y2="266.4" stroke="#e7e7e7" stroke-width="1"/>
<line x1="46.5" y1="303.3" x2="333.5" y2="303.3" stroke="#e7e7e7" stroke-width="1"/>
<line x1="46.5" y1="340.2" x2="333.5" y2="340.2" stroke="#e7e7e7" stroke-width="1"/>
<line x1="46.5" y1="229.5" x2="333.5" y2="229.5" stroke="#e7e7e7" stroke-width="1"/>
<path d="M49.5 288.4 L51.8 298.8 L54.1 314.4 L55.7 323.2 L57.7 325.1 L60.6 308.5 L63.5 298.8 L66.4 281.2 L69.4 259.4 L72.9 288 L78.1 303.3 L82 302.5 L86 303.7 L87.4 305 L92.7 316 L95.6 303.1 L98.1 292 L101.5 297.2 L105.4 299.2 L109.3 302.1 L113.2 302.3 L117.1 302.7 L121 310.9 L123.9 304.2 L127.8 303.1 L131.7 300.7 L135 292.9 L138.5 270.5 L141.5 268.5 L144 285.1 L147.3 298.4 L150.2 288 L152.8 275.8 L155.5 287.6 L158.2 283.7 L159.8 268 L161.3 256.3 L164 265.1 L166.6 298.3 L169.5 302.2 L172.4 299.3 L175.4 295.4 L178.7 265.7 L181.8 272 L184.7 278.8 L187.5 292 L190.4 297.9 L193.3 293.4 L195.9 284.6 L198.8 281.1 L201.7 292 L204.6 282.7 L207.1 252.5 L210.3 249.8 L212.8 260.2 L216 276.8 L219.3 269 L222 244.9 L224.9 256.4 L227.1 275.9 L229.9 281.7 L231.8 288.5 L233.8 299.3 L235.7 301.2 L238.7 293.4 L242.6 285.6 L245.5 274.9 L248 249.5 L251 257.3 L253.9 260.2 L256.6 255 L259.1 266.7 L261.7 265.1 L264 271 L267.5 288.1 L270.9 269 L273.4 246.6 L277.3 248.5 L279.6 269 L282.1 288.7 L284.9 266.1 L287.4 243.7 L290.7 238.8 L293.7 250.5 L297.2 256.9 L299.5 268 L302.4 286.6 L304.8 286.6 L307.3 276.8 L310.8 250.1 L314.5 256.3 L317.1 265.1 L320 284.6 L322.5 286.2 L325.3 276.8 L327.8 275.5 L331.1 282.7" stroke="#111" stroke-width="1.3" fill="none" stroke-linejoin="round"/>
<ellipse cx="161.3" cy="256.3" rx="2.1" ry="1.9" stroke="#4896d6" stroke-width="0.95" fill="none"/>
<ellipse cx="207.1" cy="252.5" rx="2.1" ry="1.9" stroke="#4896d6" stroke-width="0.95" fill="none"/>
<ellipse cx="210.3" cy="249.8" rx="2.1" ry="1.9" stroke="#4896d6" stroke-width="0.95" fill="none"/>
<ellipse cx="222" cy="244.9" rx="2.1" ry="1.9" stroke="#4896d6" stroke-width="0.95" fill="none"/>
<ellipse cx="224.9" cy="256.4" rx="2.1" ry="1.9" stroke="#4896d6" stroke-width="0.95" fill="none"/>
<ellipse cx="248" cy="249.5" rx="2.1" ry="1.9" stroke="#4896d6" stroke-width="0.95" fill="none"/>
<ellipse cx="251" cy="257.3" rx="2.1" ry="1.9" stroke="#4896d6" stroke-width="0.95" fill="none"/>
<ellipse cx="256.6" cy="255" rx="2.1" ry="1.9" stroke="#4896d6" stroke-width="0.95" fill="none"/>
<ellipse cx="273.4" cy="246.6" rx="2.1" ry="1.9" stroke="#4896d6" stroke-width="0.95" fill="none"/>
<ellipse cx="277.3" cy="248.5" rx="2.1" ry="1.9" stroke="#4896d6" stroke-width="0.95" fill="none"/>
<ellipse cx="287.4" cy="243.7" rx="2.1" ry="1.9" stroke="#4896d6" stroke-width="0.95" fill="none"/>
<ellipse cx="290.7" cy="238.8" rx="2.1" ry="1.9" stroke="#4896d6" stroke-width="0.95" fill="none"/>
<ellipse cx="293.7" cy="250.5" rx="2.1" ry="1.9" stroke="#4896d6" stroke-width="0.95" fill="none"/>
<ellipse cx="297.2" cy="256.9" rx="2.1" ry="1.9" stroke="#4896d6" stroke-width="0.95" fill="none"/>
<ellipse cx="310.8" cy="250.1" rx="2.1" ry="1.9" stroke="#4896d6" stroke-width="0.95" fill="none"/>
<ellipse cx="314.5" cy="256.3" rx="2.1" ry="1.9" stroke="#4896d6" stroke-width="0.95" fill="none"/>
<path d="M104.3 376.5 V373.7 M161.7 376.5 V373.7 M219.1 376.5 V373.7 M276.5 376.5 V373.7 M333.9 376.5 V373.7 M46.5 229.5 H49.3 M46.5 266.4 H49.3 M46.5 303.3 H49.3 M46.5 340.2 H49.3" stroke="#8a8a8a" stroke-width="1" fill="none"/>
<path d="M46.5 229.5 V376.5 H333.5" stroke="#8a8a8a" stroke-width="1" fill="none"/>
<line x1="442.42" y1="229.5" x2="442.42" y2="376.5" stroke="#e7e7e7" stroke-width="1"/>
<line x1="500.14" y1="229.5" x2="500.14" y2="376.5" stroke="#e7e7e7" stroke-width="1"/>
<line x1="557.86" y1="229.5" x2="557.86" y2="376.5" stroke="#e7e7e7" stroke-width="1"/>
<line x1="615.58" y1="229.5" x2="615.58" y2="376.5" stroke="#e7e7e7" stroke-width="1"/>
<line x1="673.3" y1="229.5" x2="673.3" y2="376.5" stroke="#e7e7e7" stroke-width="1"/>
<line x1="384.5" y1="266.4" x2="673" y2="266.4" stroke="#e7e7e7" stroke-width="1"/>
<line x1="384.5" y1="303.3" x2="673" y2="303.3" stroke="#e7e7e7" stroke-width="1"/>
<line x1="384.5" y1="340.2" x2="673" y2="340.2" stroke="#e7e7e7" stroke-width="1"/>
<line x1="384.5" y1="229.5" x2="673" y2="229.5" stroke="#e7e7e7" stroke-width="1"/>
<path d="M387.1 303 L388.7 306.2 L390.7 312.5 L392 326 L393.4 340 L395.5 334.8 L397.9 328.4 L399.8 324.4 L401.8 321.6 L403.4 314.1 L405 305.7 L407.4 305.1 L409 316.5 L410.6 328.4 L413 311.7 L415.7 299.8 L418.5 300.6 L421.7 302.2 L424.9 294.6 L427.6 286.6 L430.7 300.5 L433.7 309.9 L436.6 302 L439.5 300.5 L442.4 302 L445.4 300.5 L448.3 298.1 L450.8 287.2 L453.2 302.4 L456.1 302.8 L459 281 L462.5 273.2 L465.3 272.8 L468.4 253.3 L470.7 271.2 L474.6 295.6 L477.2 296.6 L479.5 282.9 L482.4 274.7 L485.4 278 L489.3 289.8 L491.8 293.1 L494.9 286.6 L499.8 267.1 L502.7 275.9 L505.6 276.8 L508.5 301.2 L511.5 303.2 L514.4 302.6 L517.3 292 L520.2 271.4 L523.2 279.8 L526.1 268.6 L529 249.5 L532 268.6 L534.5 289.5 L537.8 294.4 L540.7 291.5 L546.6 299.3 L552.4 288.5 L557.9 270.4 L560.6 263.6 L563.8 269.5 L567.4 280.3 L569.4 278.8 L572.7 270.6 L575.2 260.8 L578.5 263.6 L581.5 274.9 L584.4 273.9 L587.3 274.5 L589.9 270 L592.6 246.6 L595.7 256.3 L598.6 268.6 L601.4 279.8 L606.4 282.3 L609.8 268.6 L612.7 264.1 L615.6 272 L618.5 260.2 L621.5 266.7 L624.6 275 L627.3 291.5 L629.8 292.4 L632.7 278.8 L635.6 276.4 L638.9 255 L641.9 244.6 L645 256 L647.3 276.8 L650.2 297.3 L652.8 300.6 L655.7 290.9 L659 295.4 L662.5 297.3 L665.9 297.9 L668.4 299.3 L670.7 301.2" stroke="#111" stroke-width="1.3" fill="none" stroke-linejoin="round"/>
<ellipse cx="393.4" cy="340" rx="2.1" ry="1.9" stroke="#4896d6" stroke-width="0.95" fill="none"/>
<ellipse cx="468.4" cy="253.3" rx="2.1" ry="1.9" stroke="#4896d6" stroke-width="0.95" fill="none"/>
<ellipse cx="499.8" cy="267.1" rx="2.1" ry="1.9" stroke="#4896d6" stroke-width="0.95" fill="none"/>
<ellipse cx="520.2" cy="271.4" rx="2.1" ry="1.9" stroke="#4896d6" stroke-width="0.95" fill="none"/>
<ellipse cx="526.1" cy="268.6" rx="2.1" ry="1.9" stroke="#4896d6" stroke-width="0.95" fill="none"/>
<ellipse cx="529" cy="249.5" rx="2.1" ry="1.9" stroke="#4896d6" stroke-width="0.95" fill="none"/>
<ellipse cx="532" cy="268.6" rx="2.1" ry="1.9" stroke="#4896d6" stroke-width="0.95" fill="none"/>
<ellipse cx="557.9" cy="270.4" rx="2.1" ry="1.9" stroke="#4896d6" stroke-width="0.95" fill="none"/>
<ellipse cx="560.6" cy="263.6" rx="2.1" ry="1.9" stroke="#4896d6" stroke-width="0.95" fill="none"/>
<ellipse cx="563.8" cy="269.5" rx="2.1" ry="1.9" stroke="#4896d6" stroke-width="0.95" fill="none"/>
<ellipse cx="572.7" cy="270.6" rx="2.1" ry="1.9" stroke="#4896d6" stroke-width="0.95" fill="none"/>
<ellipse cx="575.2" cy="260.8" rx="2.1" ry="1.9" stroke="#4896d6" stroke-width="0.95" fill="none"/>
<ellipse cx="578.5" cy="263.6" rx="2.1" ry="1.9" stroke="#4896d6" stroke-width="0.95" fill="none"/>
<ellipse cx="589.9" cy="270" rx="2.1" ry="1.9" stroke="#4896d6" stroke-width="0.95" fill="none"/>
<ellipse cx="592.6" cy="246.6" rx="2.1" ry="1.9" stroke="#4896d6" stroke-width="0.95" fill="none"/>
<ellipse cx="595.7" cy="256.3" rx="2.1" ry="1.9" stroke="#4896d6" stroke-width="0.95" fill="none"/>
<ellipse cx="598.6" cy="268.6" rx="2.1" ry="1.9" stroke="#4896d6" stroke-width="0.95" fill="none"/>
<ellipse cx="609.8" cy="268.6" rx="2.1" ry="1.9" stroke="#4896d6" stroke-width="0.95" fill="none"/>
<ellipse cx="612.7" cy="264.1" rx="2.1" ry="1.9" stroke="#4896d6" stroke-width="0.95" fill="none"/>
<ellipse cx="615.6" cy="272" rx="2.1" ry="1.9" stroke="#4896d6" stroke-width="0.95" fill="none"/>
<ellipse cx="618.5" cy="260.2" rx="2.1" ry="1.9" stroke="#4896d6" stroke-width="0.95" fill="none"/>
<ellipse cx="621.5" cy="266.7" rx="2.1" ry="1.9" stroke="#4896d6" stroke-width="0.95" fill="none"/>
<ellipse cx="638.9" cy="255" rx="2.1" ry="1.9" stroke="#4896d6" stroke-width="0.95" fill="none"/>
<ellipse cx="641.9" cy="244.6" rx="2.1" ry="1.9" stroke="#4896d6" stroke-width="0.95" fill="none"/>
<ellipse cx="645" cy="256" rx="2.1" ry="1.9" stroke="#4896d6" stroke-width="0.95" fill="none"/>
<path d="M442.42 376.5 V373.7 M500.14 376.5 V373.7 M557.86 376.5 V373.7 M615.58 376.5 V373.7 M673.3 376.5 V373.7 M384.5 229.5 H387.3 M384.5 266.4 H387.3 M384.5 303.3 H387.3 M384.5 340.2 H387.3" stroke="#8a8a8a" stroke-width="1" fill="none"/>
<path d="M384.5 229.5 V376.5 H673" stroke="#8a8a8a" stroke-width="1" fill="none"/>
<text transform="translate(169.69 9.3) scale(1.0628 1)" font-size="11.159" font-weight="bold" fill="#000">UNP1</text>
<text transform="translate(507.8 9.3) scale(1.0512 1)" font-size="11.159" font-weight="bold" fill="#000">UNP4</text>
<text transform="translate(42.64 184.9) scale(1.2098 1)" font-size="12.571" font-weight="normal" fill="#262626">0</text>
<text transform="translate(96.4 184.9) scale(1.1175 1)" font-size="12.571" font-weight="normal" fill="#262626">20</text>
<text transform="translate(154.23 184.9) scale(1.0857 1)" font-size="12.571" font-weight="normal" fill="#262626">40</text>
<text transform="translate(211.2 184.9) scale(1.1175 1)" font-size="12.571" font-weight="normal" fill="#262626">60</text>
<text transform="translate(268.67 184.9) scale(1.1121 1)" font-size="12.571" font-weight="normal" fill="#262626">80</text>
<text transform="translate(322.28 184.9) scale(1.0845 1)" font-size="12.571" font-weight="normal" fill="#262626">100</text>
<text transform="translate(380.44 184.9) scale(1.2098 1)" font-size="12.571" font-weight="normal" fill="#262626">0</text>
<text transform="translate(434.52 184.9) scale(1.1175 1)" font-size="12.571" font-weight="normal" fill="#262626">20</text>
<text transform="translate(492.67 184.9) scale(1.0857 1)" font-size="12.571" font-weight="normal" fill="#262626">40</text>
<text transform="translate(549.96 184.9) scale(1.1175 1)" font-size="12.571" font-weight="normal" fill="#262626">60</text>
<text transform="translate(607.75 184.9) scale(1.1121 1)" font-size="12.571" font-weight="normal" fill="#262626">80</text>
<text transform="translate(661.68 184.9) scale(1.0845 1)" font-size="12.571" font-weight="normal" fill="#262626">100</text>
<text transform="translate(42.64 390.9) scale(1.2379 1)" font-size="12.286" font-weight="normal" fill="#262626">0</text>
<text transform="translate(96.4 390.9) scale(1.1435 1)" font-size="12.286" font-weight="normal" fill="#262626">20</text>
<text transform="translate(154.23 390.9) scale(1.1110 1)" font-size="12.286" font-weight="normal" fill="#262626">40</text>
<text transform="translate(211.2 390.9) scale(1.1435 1)" font-size="12.286" font-weight="normal" fill="#262626">60</text>
<text transform="translate(268.67 390.9) scale(1.1380 1)" font-size="12.286" font-weight="normal" fill="#262626">80</text>
<text transform="translate(322.28 390.9) scale(1.1097 1)" font-size="12.286" font-weight="normal" fill="#262626">100</text>
<text transform="translate(380.44 390.9) scale(1.2379 1)" font-size="12.286" font-weight="normal" fill="#262626">0</text>
<text transform="translate(434.52 390.9) scale(1.1435 1)" font-size="12.286" font-weight="normal" fill="#262626">20</text>
<text transform="translate(492.67 390.9) scale(1.1110 1)" font-size="12.286" font-weight="normal" fill="#262626">40</text>
<text transform="translate(549.96 390.9) scale(1.1435 1)" font-size="12.286" font-weight="normal" fill="#262626">60</text>
<text transform="translate(607.75 390.9) scale(1.1380 1)" font-size="12.286" font-weight="normal" fill="#262626">80</text>
<text transform="translate(661.68 390.9) scale(1.1097 1)" font-size="12.286" font-weight="normal" fill="#262626">100</text>
<text transform="translate(21.1 37.7) scale(1.0907 1)" font-size="12.286" font-weight="normal" fill="#262626">10</text>
<text transform="translate(36.47 32.1) scale(1.0860 1)" font-size="9.714" font-weight="normal" fill="#262626">2</text>
<text transform="translate(21.1 106.9) scale(1.0907 1)" font-size="12.286" font-weight="normal" fill="#262626">10</text>
<text transform="translate(36.17 101.3) scale(1.1197 1)" font-size="9.855" font-weight="normal" fill="#262626">1</text>
<text transform="translate(21.1 176.7) scale(1.0907 1)" font-size="12.286" font-weight="normal" fill="#262626">10</text>
<text transform="translate(36.6 171.1) scale(1.0294 1)" font-size="9.714" font-weight="normal" fill="#262626">0</text>
<text transform="translate(359.5 28.6) scale(1.0907 1)" font-size="12.286" font-weight="normal" fill="#262626">10</text>
<text transform="translate(374.87 23) scale(1.0860 1)" font-size="9.714" font-weight="normal" fill="#262626">2</text>
<text transform="translate(359.5 103.3) scale(1.0907 1)" font-size="12.286" font-weight="normal" fill="#262626">10</text>
<text transform="translate(374.57 97.7) scale(1.1197 1)" font-size="9.855" font-weight="normal" fill="#262626">1</text>
<text transform="translate(359.5 176.7) scale(1.0907 1)" font-size="12.286" font-weight="normal" fill="#262626">10</text>
<text transform="translate(375 171.1) scale(1.0294 1)" font-size="9.714" font-weight="normal" fill="#262626">0</text>
<text transform="translate(35.25 233.9) scale(1.0536 1)" font-size="12.000" font-weight="normal" fill="#262626">1</text>
<text transform="translate(23.77 270.65) scale(1.1069 1)" font-size="12.000" font-weight="normal" fill="#262626">0.5</text>
<text transform="translate(33.79 307.4) scale(1.2674 1)" font-size="12.000" font-weight="normal" fill="#262626">0</text>
<text transform="translate(18.89 344.15) scale(1.1315 1)" font-size="12.000" font-weight="normal" fill="#262626">-0.5</text>
<text transform="translate(30.5 380.9) scale(1.1042 1)" font-size="12.000" font-weight="normal" fill="#262626">-1</text>
<text transform="translate(373.55 233.9) scale(1.0536 1)" font-size="12.000" font-weight="normal" fill="#262626">1</text>
<text transform="translate(362.07 270.65) scale(1.1069 1)" font-size="12.000" font-weight="normal" fill="#262626">0.5</text>
<text transform="translate(372.09 307.4) scale(1.2674 1)" font-size="12.000" font-weight="normal" fill="#262626">0</text>
<text transform="translate(357.19 344.15) scale(1.1315 1)" font-size="12.000" font-weight="normal" fill="#262626">-0.5</text>
<text transform="translate(368.8 380.9) scale(1.1042 1)" font-size="12.000" font-weight="normal" fill="#262626">-1</text>
<text transform="translate(139.84 405.9) scale(1.1762 1)" font-size="12.319" font-weight="normal" fill="#262626">Frequency (Hz)</text>
<text transform="translate(478.43 405.9) scale(1.1858 1)" font-size="12.319" font-weight="normal" fill="#262626">Frequency (Hz)</text>
<text transform="translate(16.2 134.69) rotate(-90) scale(1.0537 1)" font-size="12.899" fill="#262626">Power (a.u.)</text>
<text transform="translate(13.9 331.72) rotate(-90) scale(1.0415 1)" font-size="13.143" fill="#262626">Signed r</text>
<text transform="translate(7.5 280.14) rotate(-90) scale(0.9185 1)" font-size="9.571" fill="#262626">2</text>
<rect x="355" y="62" width="1.4" height="1.2" fill="#d8d8d8"/><rect x="355" y="88.7" width="1.4" height="1.2" fill="#d8d8d8"/>
</svg></div>
</body></html>
